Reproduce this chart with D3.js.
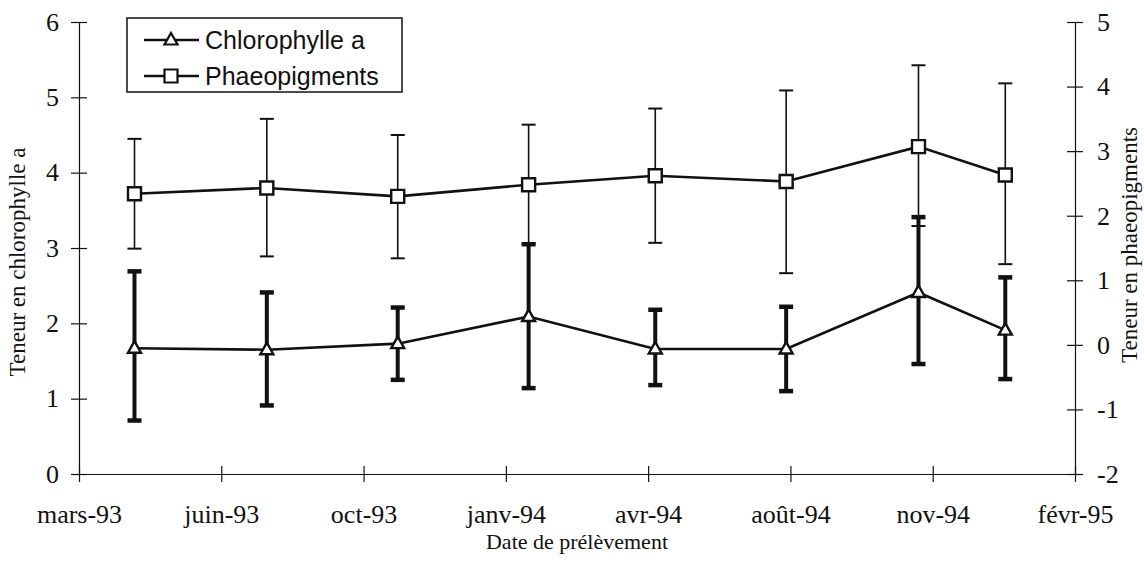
<!DOCTYPE html>
<html>
<head>
<meta charset="utf-8">
<script src="https://cdn.jsdelivr.net/npm/d3@7"></script>
<style>
  body { margin: 0; background: #fff; }
  svg { display: block; }
</style>
</head>
<body>
<svg id="chart" width="1144" height="563"></svg>
<script>
// ── Data ───────────────────────────────────────────────
const tickLabels = ['mars-93', 'juin-93', 'oct-93', 'janv-94', 'avr-94', 'août-94', 'nov-94', 'févr-95'];
// sampling dates, as a position between the axis ticks
const samplePos = [0.39, 1.32, 2.24, 3.16, 4.05, 4.97, 5.90, 6.51];

const chlMean = [1.67, 1.65, 1.73, 2.09, 1.66, 1.66, 2.41, 1.91];
const chlLow = [0.71, 0.91, 1.25, 1.14, 1.18, 1.10, 1.46, 1.26];
const chlHigh = [2.69, 2.41, 2.21, 3.05, 2.18, 2.22, 3.41, 2.61];

const phaeoMean = [2.34, 2.43, 2.30, 2.48, 2.62, 2.53, 3.07, 2.63];
const phaeoLow = [1.49, 1.37, 1.34, 1.57, 1.58, 1.11, 1.84, 1.25];
const phaeoHigh = [3.19, 3.50, 3.25, 3.41, 3.66, 3.94, 4.33, 4.05];

const leftTicks = [0, 1, 2, 3, 4, 5, 6];
const rightTicks = [-2, -1, 0, 1, 2, 3, 4, 5];

// ── Setup ──────────────────────────────────────────────
const svg = d3.select('#chart');
const serif = "'Liberation Serif', 'Times New Roman', serif";
const sans = "'Liberation Sans', Arial, sans-serif";
const ink = '#111';

const plot = { left: 79, right: 1075, top: 22, bottom: 474 };

const x = d3.scaleLinear().domain([0, tickLabels.length - 1]).range([plot.left, plot.right]);
const yL = d3.scaleLinear().domain([0, 6]).range([plot.bottom, plot.top]);
const yR = d3.scaleLinear().domain([-2, 5]).range([plot.bottom, plot.top]);

const chl = samplePos.map((p, i) => ({ x: p, v: chlMean[i], lo: chlLow[i], hi: chlHigh[i] }));
const phaeo = samplePos.map((p, i) => ({ x: p, v: phaeoMean[i], lo: phaeoLow[i], hi: phaeoHigh[i] }));

const intFmt = v => String(v); // plain hyphen for negatives, as in the figure

// ── Axes (Excel style: ticks crossing the line) ────────
function styleAxis(g) {
  g.select('.domain').attr('stroke', ink).attr('stroke-width', 1.2);
  g.selectAll('.tick line').attr('stroke', ink).attr('stroke-width', 1.2);
  g.selectAll('.tick text').attr('font-family', serif).attr('font-size', 26).attr('fill', ink);
}

const xAxis = svg.append('g')
  .attr('transform', `translate(0,${plot.bottom})`)
  .call(d3.axisBottom(x).tickValues(d3.range(tickLabels.length))
    .tickFormat(i => tickLabels[i]).tickSizeInner(8).tickSizeOuter(0).tickPadding(23));
styleAxis(xAxis);
xAxis.selectAll('.tick line').attr('y1', -8);

const leftAxis = svg.append('g')
  .attr('transform', `translate(${plot.left},0)`)
  .call(d3.axisLeft(yL).tickValues(leftTicks).tickFormat(intFmt)
    .tickSizeInner(8).tickSizeOuter(0).tickPadding(12));
styleAxis(leftAxis);
leftAxis.selectAll('.tick line').attr('x1', 8);

const rightAxis = svg.append('g')
  .attr('transform', `translate(${plot.right},0)`)
  .call(d3.axisRight(yR).tickValues(rightTicks).tickFormat(intFmt)
    .tickSizeInner(8).tickSizeOuter(0).tickPadding(14));
styleAxis(rightAxis);
rightAxis.selectAll('.tick line').attr('x1', -8);

// axis titles
svg.append('text')
  .attr('x', 577).attr('y', 549)
  .attr('text-anchor', 'middle')
  .attr('font-family', serif).attr('font-size', 22).attr('fill', ink)
  .text('Date de prélèvement');

svg.append('text')
  .attr('transform', 'translate(25,262) rotate(-90)')
  .attr('text-anchor', 'middle')
  .attr('font-family', serif).attr('font-size', 23).attr('fill', ink)
  .text('Teneur en chlorophylle a');

svg.append('text')
  .attr('transform', 'translate(1137,245) rotate(-90)')
  .attr('text-anchor', 'middle')
  .attr('font-family', serif).attr('font-size', 23).attr('fill', ink)
  .text('Teneur en phaeopigments');

// ── Series ─────────────────────────────────────────────
function drawSeries(data, y, opts) {
  const g = svg.append('g');
  const bars = g.append('g').selectAll('g').data(data).join('g');
  bars.append('line')
    .attr('x1', d => x(d.x)).attr('x2', d => x(d.x))
    .attr('y1', d => y(d.lo)).attr('y2', d => y(d.hi))
    .attr('stroke', ink).attr('stroke-width', opts.barW);
  ['lo', 'hi'].forEach(k => {
    bars.append('line')
      .attr('x1', d => x(d.x) - 7).attr('x2', d => x(d.x) + 7)
      .attr('y1', d => y(d[k])).attr('y2', d => y(d[k]))
      .attr('stroke', ink).attr('stroke-width', opts.capW);
  });
  g.append('path')
    .datum(data)
    .attr('fill', 'none').attr('stroke', ink).attr('stroke-width', 2.6)
    .attr('d', d3.line().x(d => x(d.x)).y(d => y(d.v)));
  g.selectAll('path.mark').data(data).join('path')
    .attr('class', 'mark')
    .attr('transform', d => `translate(${x(d.x)},${y(d.v)})`)
    .attr('d', opts.symbol)
    .attr('fill', '#fff').attr('stroke', ink).attr('stroke-width', 2.4);
}

const triPath = 'M0,-7L6.5,4.5L-6.5,4.5Z';
const sqPath = 'M-6.5,-6.5H6.5V6.5H-6.5Z';

drawSeries(phaeo, yR, { barW: 1.6, capW: 2, symbol: sqPath });
drawSeries(chl, yL, { barW: 4, capW: 4.5, symbol: triPath });

// ── Legend ─────────────────────────────────────────────
const legend = svg.append('g');
legend.append('rect')
  .attr('x', 127).attr('y', 18).attr('width', 275).attr('height', 74)
  .attr('fill', '#fff').attr('stroke', ink).attr('stroke-width', 1.5);
const legendItems = [
  { label: 'Chlorophylle a', symbol: triPath, y: 40 },
  { label: 'Phaeopigments', symbol: sqPath, y: 76 },
];
legendItems.forEach(it => {
  legend.append('line')
    .attr('x1', 144).attr('x2', 199).attr('y1', it.y).attr('y2', it.y)
    .attr('stroke', ink).attr('stroke-width', 2.4);
  legend.append('path')
    .attr('transform', `translate(171,${it.y})`)
    .attr('d', it.symbol)
    .attr('fill', '#fff').attr('stroke', ink).attr('stroke-width', 2.2);
  legend.append('text')
    .attr('x', 205).attr('y', it.y + 9)
    .attr('font-family', sans).attr('font-size', 25).attr('fill', ink)
    .text(it.label);
});
</script>
</body>
</html>
